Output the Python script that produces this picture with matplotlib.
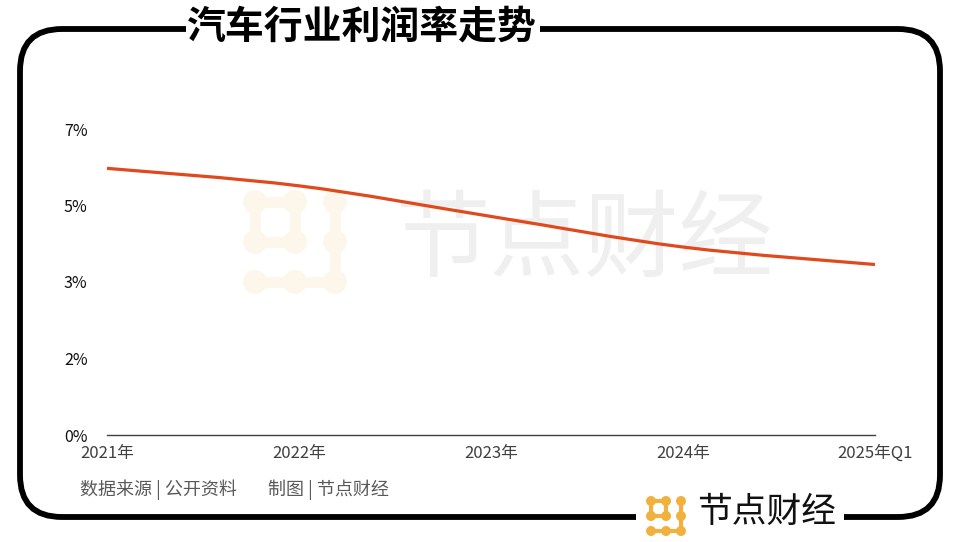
import numpy as np
import matplotlib
matplotlib.use("Agg")
import matplotlib.pyplot as plt
from matplotlib.path import Path
from matplotlib.patches import PathPatch, FancyBboxPatch, Rectangle, Circle

plt.rcParams['font.family'] = ['Noto Sans CJK SC', 'DejaVu Sans']

# data
years = ["2021年", "2022年", "2023年", "2024年", "2025年Q1"]
margin = [6.1, 5.7, 5.0, 4.3, 3.9]
ytick_vals = [0, 1.75, 3.5, 5.25, 7]
ytick_labels = ["0%", "2%", "3%", "5%", "7%"]

W, H = 955, 542
fig = plt.figure(figsize=(W / 100, H / 100), dpi=100)

# background / decoration layer in pixel coords
bg = fig.add_axes([0, 0, 1, 1], zorder=0)
bg.set_xlim(0, W)
bg.set_ylim(H, 0)
bg.axis("off")

frame = FancyBboxPatch((20, 29), 920, 488, boxstyle="round,pad=0,rounding_size=42",
                       fc="none", ec="black", lw=4.2)
bg.add_patch(frame)
bg.add_patch(Rectangle((186, 10), 354, 40, fc="white", ec="none", zorder=3))
bg.add_patch(Rectangle((636, 500), 208, 40, fc="white", ec="none", zorder=3))
bg.text(362, 27, "汽车行业利润率走势", ha="center", va="center", fontsize=28,
        fontweight="black", color="black", zorder=4)

# watermark
bg.text(585, 242, "节点财经", ha="center", va="center", fontsize=68,
        fontweight="light", color="#efefef", zorder=1)


def dots_logo(ax, x0, y0, step, r, color, lw, z):
    pts = [(0, 0), (1, 0), (2, 0), (0, 1), (1, 1), (2, 1), (0, 2), (1, 2), (2, 2)]
    links = [((0, 0), (1, 0)), ((0, 0), (0, 1)), ((1, 0), (1, 1)), ((0, 1), (1, 1)),
             ((2, 0), (2, 1)), ((2, 1), (2, 2)), ((0, 2), (1, 2)), ((1, 2), (2, 2))]
    for (a, b), (c, d) in links:
        ax.plot([x0 + a * step, x0 + c * step], [y0 + b * step, y0 + d * step],
                color=color, lw=lw, solid_capstyle="round", zorder=z)
    for a, b in pts:
        ax.add_patch(Circle((x0 + a * step, y0 + b * step), r, fc=color, ec="none", zorder=z))


dots_logo(bg, 255, 202, 40, 12, "#fdf6ea", 8, 1)
# hollow center of the ring in the watermark logo
bg.add_patch(Circle((275, 223), 12, fc="white", ec="none", zorder=1.5))

dots_logo(bg, 651, 501, 15, 5, "#f0b13f", 3, 4)
bg.text(697, 512, "节点财经", ha="left", va="center", fontsize=25,
        fontweight="medium", color="#111111", zorder=4)

bg.text(80, 490, "数据来源 | 公开资料", ha="left", va="center",
        fontsize=13, color="#595959")
bg.text(268, 490, "制图 | 节点财经", ha="left", va="center",
        fontsize=13, color="#595959")

# chart
ax = fig.add_axes([107 / W, (H - 435) / H, (875 - 107) / W, (435 - 129) / H], zorder=1)
ax.patch.set_alpha(0)
x = np.arange(len(years))
y = np.array(margin)

# smooth curve through points (Catmull-Rom as cubic Bezier)
verts = [(x[0], y[0])]
codes = [Path.MOVETO]
for i in range(len(x) - 1):
    p0 = np.array([x[max(i - 1, 0)], y[max(i - 1, 0)]])
    p1 = np.array([x[i], y[i]])
    p2 = np.array([x[i + 1], y[i + 1]])
    p3 = np.array([x[min(i + 2, len(x) - 1)], y[min(i + 2, len(x) - 1)]])
    c1 = p1 + (p2 - p0) / 6
    c2 = p2 - (p3 - p1) / 6
    verts += [tuple(c1), tuple(c2), tuple(p2)]
    codes += [Path.CURVE4] * 3
ax.add_patch(PathPatch(Path(verts, codes), fc="none", ec="#e0491c", lw=2.3, zorder=3))

ax.set_xlim(0, len(years) - 1)
ax.set_ylim(0, 7)
ax.set_xticks(x)
ax.set_xticklabels(years, fontsize=12, color="#404040")
ax.set_yticks(ytick_vals)
ax.set_yticklabels(ytick_labels, fontsize=11.5, color="#111111")
ax.tick_params(length=0, pad=7)
ax.tick_params(axis="y", pad=14)
for s in ["top", "right", "left"]:
    ax.spines[s].set_visible(False)
ax.spines["bottom"].set_color("#404040")
ax.spines["bottom"].set_linewidth(1)

fig.savefig("out.png", dpi=100)
